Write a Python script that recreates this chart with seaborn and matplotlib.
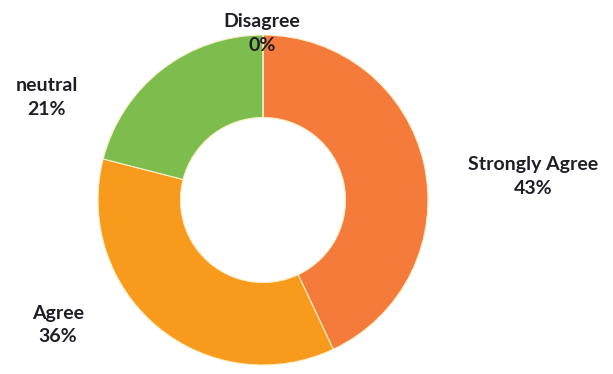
import matplotlib
matplotlib.use("Agg")
import matplotlib.pyplot as plt
import seaborn as sns

# Survey response shares (percent)
categories = ["Strongly Agree", "Agree", "neutral", "Disagree"]
values = [43, 36, 21, 0]
colors = ["#F47B3A", "#F89A1C", "#7DBD4E", "#9FD3E8"]

sns.set_theme(style="white")
plt.rcParams["font.family"] = ["Lato", "DejaVu Sans"]

W, H = 613, 374
fig = plt.figure(figsize=(W / 100, H / 100), dpi=100)
ax = fig.add_axes([0, 0, 1, 1])


def py(y):
    # pixel row (from top) to data y (from bottom)
    return H - y


cx, cy, r = 263, 200, 165
ax.pie(
    values,
    colors=colors,
    startangle=90,
    counterclock=False,
    radius=r,
    center=(cx, py(cy)),
    wedgeprops=dict(width=r * 0.5, edgecolor="#FBEFC8", linewidth=0.8),
    frame=True,
)
ax.set_xlim(0, W)
ax.set_ylim(0, H)
ax.set_aspect("equal")
ax.axis("off")

# Label anchor points (pixel coordinates of text centres)
label_pos = {
    "Strongly Agree": (533, 176),
    "Agree": (58, 325),
    "neutral": (47, 97),
    "Disagree": (262, 33),
}
for cat, val in zip(categories, values):
    x, y = label_pos[cat]
    ax.text(x, py(y), f"{cat}\n{val}%", ha="center", va="center",
            fontsize=14, fontweight="bold", color="#1E1E28",
            linespacing=1.5)

fig.savefig("out.png", dpi=100)
